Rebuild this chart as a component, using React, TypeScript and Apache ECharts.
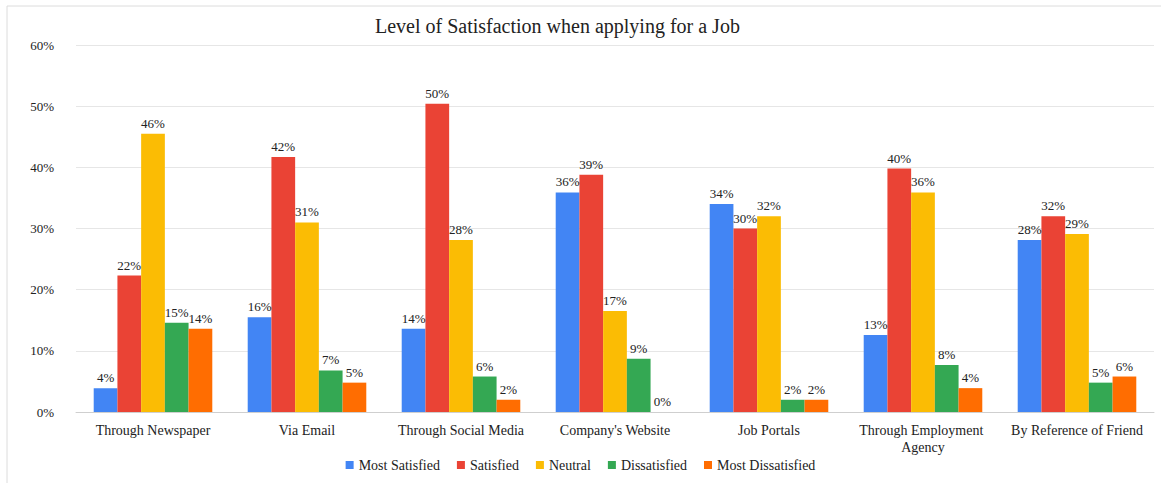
import React, { useEffect, useRef } from "react";
import * as echarts from "echarts";

const categories = [
  "Through Newspaper",
  "Via Email",
  "Through Social Media",
  "Company's Website",
  "Job Portals",
  "Through Employment Agency",
  "By Reference of Friend",
];
const seriesNames = ["Most Satisfied", "Satisfied", "Neutral", "Dissatisfied", "Most Dissatisfied"];
const mostSatisfied = [3.9, 15.5, 13.6, 35.9, 34.0, 12.6, 28.1];
const satisfied = [22.3, 41.7, 50.4, 38.8, 30.0, 39.8, 32.0];
const neutral = [45.5, 31.0, 28.1, 16.5, 32.0, 35.9, 29.1];
const dissatisfied = [14.6, 6.8, 5.8, 8.7, 2.0, 7.7, 4.8];
const mostDissatisfied = [13.6, 4.8, 2.0, 0, 2.0, 3.9, 5.8];
const yTicks = [0, 10, 20, 30, 40, 50, 60];
const colors = ["#4285F4", "#EA4335", "#FBBC04", "#34A853", "#FF6D01"];

const FONT = '"Liberation Serif", "Times New Roman", serif';

export default function App() {
  const ref = useRef<HTMLDivElement>(null);
  useEffect(() => {
    document.body.style.margin = "0";
    const chart = echarts.init(ref.current!, null, { renderer: "svg" });
    const values = [mostSatisfied, satisfied, neutral, dissatisfied, mostDissatisfied];
    chart.setOption({
      animation: false,
      color: colors,
      textStyle: { fontFamily: FONT },
      graphic: [
        {
          type: "rect",
          shape: { x: 7, y: 6, width: 1300, height: 600 },
          style: { fill: "none", stroke: "#dcdcdc", lineWidth: 1 },
          silent: true,
        },
      ],
      title: {
        text: "Level of Satisfaction when applying for a Job",
        left: 370,
        top: 11,
        textStyle: { fontFamily: FONT, fontSize: 20, fontWeight: "normal", color: "#222" },
      },
      legend: {
        data: seriesNames,
        bottom: 6,
        left: "center",
        icon: "rect",
        itemWidth: 8,
        itemHeight: 8,
        itemGap: 17,
        textStyle: { fontFamily: FONT, fontSize: 14, color: "#222" },
      },
      grid: { left: 76, right: 7, top: 45, bottom: 71 },
      xAxis: {
        type: "category",
        data: categories,
        axisTick: { show: false },
        axisLine: { lineStyle: { color: "#cfcfcf" } },
        axisLabel: {
          fontFamily: FONT,
          fontSize: 14,
          color: "#222",
          margin: 10,
          width: 140,
          overflow: "break",
          lineHeight: 17,
          interval: 0,
        },
      },
      yAxis: {
        type: "value",
        min: yTicks[0],
        max: yTicks[yTicks.length - 1],
        interval: 10,
        axisLine: { show: false },
        axisTick: { show: false },
        splitLine: { lineStyle: { color: "#e6e6e6" } },
        axisLabel: {
          fontFamily: FONT,
          fontSize: 13,
          color: "#222",
          margin: 22,
          formatter: (v: number) => v + "%",
        },
      },
      series: seriesNames.map((name, i) => ({
        name,
        type: "bar",
        data: values[i],
        barGap: "0%",
        barCategoryGap: "23%",
        label: {
          show: true,
          position: "top",
          distance: 4,
          fontFamily: FONT,
          fontSize: 13,
          color: "#222",
          formatter: (p: any) => Math.round(p.value) + "%",
        },
      })),
    });
    return () => chart.dispose();
  }, []);
  return <div ref={ref} style={{ width: 1161, height: 483 }} />;
}
